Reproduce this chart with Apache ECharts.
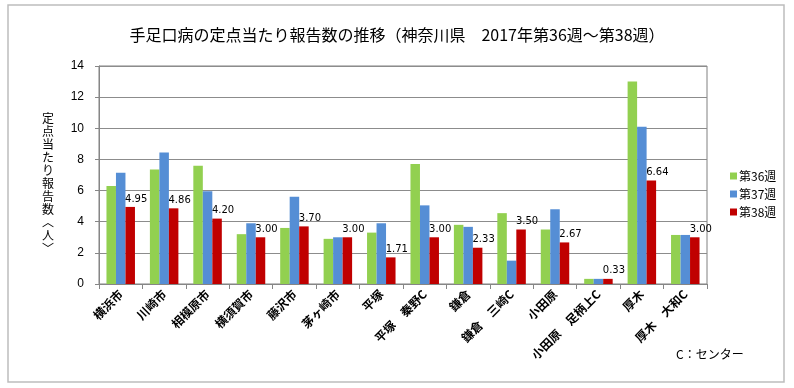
<!DOCTYPE html>
<html>
<head>
<meta charset="utf-8">
<script src="https://cdn.jsdelivr.net/npm/echarts@6/dist/echarts.min.js"></script>
<style>html,body{margin:0;padding:0;background:#fff}#c{width:794px;height:388px}</style>
</head>
<body>
<div id="c"></div>
<script>
const categories = ['横浜市','川崎市','相模原市','横須賀市','藤沢市','茅ヶ崎市','平塚','平塚　秦野C','鎌倉','鎌倉　三崎C','小田原','小田原　足柄上C','厚木','厚木　大和C'];
const week36 = [6.3, 7.35, 7.6, 3.2, 3.6, 2.9, 3.3, 7.7, 3.8, 4.55, 3.5, 0.33, 13.0, 3.15];
const week37 = [7.15, 8.45, 5.95, 3.9, 5.6, 3.0, 3.9, 5.05, 3.67, 1.5, 4.8, 0.33, 10.1, 3.15];
const week38 = [4.95, 4.86, 4.20, 3.00, 3.70, 3.00, 1.71, 3.00, 2.33, 3.50, 2.67, 0.33, 6.64, 3.00];
const seriesNames = ['第36週','第37週','第38週'];
const yTicks = {min: 0, max: 14, interval: 2};
const titleText = '手足口病の定点当たり報告数の推移（神奈川県　2017年第36週～第38週）';
const yName = ['定','点','当','た','り','報','告','数','︿','人','﹀'];
const noteText = 'C：センター';

const jp = '"Noto Sans CJK JP", sans-serif';
const chart = echarts.init(document.getElementById('c'), null, {renderer: 'canvas'});
const barBase = {type: 'bar', barWidth: 9.5, barGap: '0%'};
chart.setOption({
  animation: false,
  backgroundColor: '#fff',
  title: {
    text: titleText, left: 'center', top: 22,
    textStyle: {fontFamily: jp, fontSize: 16, fontWeight: 'normal', color: '#000'}
  },
  grid: {left: 99, right: 87, top: 66, bottom: 104, show: true, borderColor: '#808080', borderWidth: 1},
  legend: {
    orient: 'vertical', left: 725, top: 165, itemWidth: 7, itemHeight: 7, itemGap: 6, icon: 'rect',
    textStyle: {fontFamily: jp, fontSize: 12, color: '#000', padding: [0,0,0,-3]},
    data: seriesNames
  },
  xAxis: {
    type: 'category', data: categories,
    axisLine: {lineStyle: {color: '#868686'}},
    axisTick: {show: true, length: 5, lineStyle: {color: '#868686'}},
    axisLabel: {rotate: 45, interval: 0, fontFamily: jp, fontSize: 12, color: '#000', margin: 8, fontWeight: 'bold'}
  },
  yAxis: {
    type: 'value', min: yTicks.min, max: yTicks.max, interval: yTicks.interval,
    axisLine: {show: true, lineStyle: {color: '#868686'}},
    axisTick: {show: true, length: 4, lineStyle: {color: '#868686'}},
    axisLabel: {fontFamily: '"Liberation Sans", Arial, sans-serif', fontSize: 12, color: '#000', margin: 15},
    splitLine: {lineStyle: {color: '#8c8c8c'}}
  },
  series: [
    Object.assign({}, barBase, {name: seriesNames[0], data: week36, itemStyle: {color: '#92D050'}}),
    Object.assign({}, barBase, {name: seriesNames[1], data: week37, itemStyle: {color: '#558ED5'}}),
    Object.assign({}, barBase, {name: seriesNames[2], data: week38, itemStyle: {color: '#C00000'},
      label: {show: true, position: 'top', distance: 2, offset: [6, -1],
        formatter: p => p.value.toFixed(2),
        fontFamily: '"DejaVu Sans", sans-serif', fontSize: 10, color: '#000'}})
  ],
  graphic: [
    {type: 'rect', shape: {x: 8, y: 5, width: 776, height: 377}, style: {fill: 'none', stroke: '#bdbdbd', lineWidth: 1.5}, silent: true},
    {type: 'text', left: 42, top: 112, style: {text: yName.join('\n'), fontFamily: jp, fontSize: 12, lineHeight: 13, fill: '#000', align: 'center'}},
    {type: 'text', left: 676, top: 348, style: {text: noteText, fontFamily: jp, fontSize: 12, fill: '#000'}}
  ]
});
</script>
</body>
</html>
